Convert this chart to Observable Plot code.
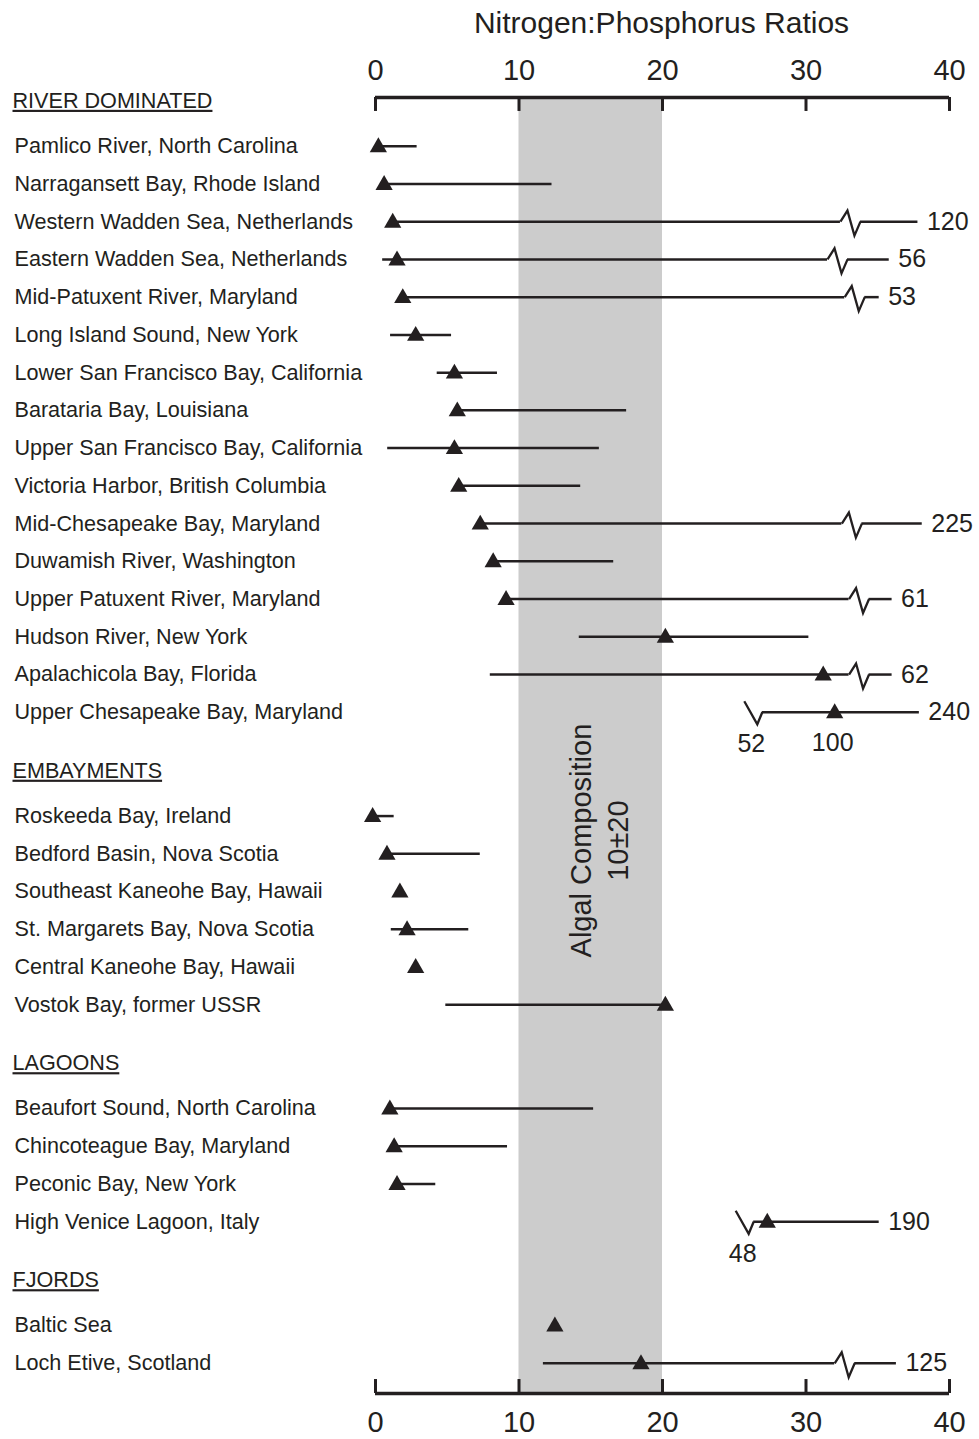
<!DOCTYPE html>
<html><head><meta charset="utf-8">
<script src="https://cdn.jsdelivr.net/npm/d3@7"></script>
<script src="https://cdn.jsdelivr.net/npm/@observablehq/plot@0.6"></script>
<style>
body{margin:0;background:#fff;font-family:"Liberation Sans",Arial,sans-serif;}
#title{width:979px;box-sizing:border-box;padding-left:375px;padding-right:31px;text-align:center;font-size:30px;color:#231f20;height:40px;line-height:46px;white-space:nowrap;}
#chart svg{display:block;}
</style></head><body>
<div id="title">Nitrogen:Phosphorus Ratios</div>
<div id="chart"></div>
<script>
// ---------- data ----------
const groups = ["RIVER DOMINATED", "EMBAYMENTS", "LAGOONS", "FJORDS"];
const sites = [
  "Pamlico River, North Carolina",
  "Narragansett Bay, Rhode Island",
  "Western Wadden Sea, Netherlands",
  "Eastern Wadden Sea, Netherlands",
  "Mid-Patuxent River, Maryland",
  "Long Island Sound, New York",
  "Lower San Francisco Bay, California",
  "Barataria Bay, Louisiana",
  "Upper San Francisco Bay, California",
  "Victoria Harbor, British Columbia",
  "Mid-Chesapeake Bay, Maryland",
  "Duwamish River, Washington",
  "Upper Patuxent River, Maryland",
  "Hudson River, New York",
  "Apalachicola Bay, Florida",
  "Upper Chesapeake Bay, Maryland",
  "Roskeeda Bay, Ireland",
  "Bedford Basin, Nova Scotia",
  "Southeast Kaneohe Bay, Hawaii",
  "St. Margarets Bay, Nova Scotia",
  "Central Kaneohe Bay, Hawaii",
  "Vostok Bay, former USSR",
  "Beaufort Sound, North Carolina",
  "Chincoteague Bay, Maryland",
  "Peconic Bay, New York",
  "High Venice Lagoon, Italy",
  "Baltic Sea",
  "Loch Etive, Scotland"
];
const siteGroup = [0,0,0,0,0,0,0,0,0,0,0,0,0,0,0,0, 1,1,1,1,1,1, 2,2,2,2, 3,3];
// mean N:P ratio (triangle), on the plotted axis
const meanRatio = [0.2, 0.6, 1.2, 1.5, 1.9, 2.8, 5.5, 5.7, 5.5, 5.8, 7.3, 8.2, 9.1, 20.2, 31.2, 32.0,
                   -0.2, 0.8, 1.7, 2.2, 2.8, 20.2,
                   1.0, 1.3, 1.5, 27.3,
                   12.5, 18.5];
// range low / high (null = no range drawn)
const rangeLow  = [0.2, 0.6, 1.2, 0.5, 1.9, 1.05, 4.3, 5.7, 0.85, 5.8, 7.3, 8.2, 9.1, 14.2, 8.0, null,
                   -0.2, 0.8, null, 1.1, null, 4.9,
                   1.0, 1.3, 1.5, null,
                   null, 11.7];
const rangeHigh = [2.9, 12.3, 37.8, 35.8, 35.1, 5.3, 8.5, 17.5, 15.6, 14.3, 38.1, 16.6, 36.0, 30.2, 36.0, 37.9,
                   1.3, 7.3, null, 6.5, null, 20.2,
                   15.2, 9.2, 4.2, 35.1,
                   null, 36.3];
// axis break inside the range (null = none)
const breakAt = [null, null, 32.4, 31.5, 32.7, null, null, null, null, null, 32.5, null, 33.0, null, 33.0, null,
                 null, null, null, null, null, null,
                 null, null, null, null,
                 null, 32.0];
// axis break at the low end of the range (null = none)
const lowBreakAt = [null,null,null,null,null,null,null,null,null,null,null,null,null,null,null, 25.7,
                    null,null,null,null,null,null,
                    null,null,null, 25.1,
                    null,null];
const highLabel = [null, null, "120", "56", "53", null, null, null, null, null, "225", null, "61", null, "62", "240",
                   null, null, null, null, null, null,
                   null, null, null, "190",
                   null, "125"];
const lowLabel = {15: "52", 25: "48"};
const meanLabel = {15: "100"};
const xTicks = [0, 10, 20, 30, 40];
const algalBand = [10, 20];

// ---------- layout ----------
const ink = "#231f20";
const ROW = 1, HEAD_BEFORE = 1.55, HEAD_AFTER = 1.2;
const yTop = -0.09, yBottom = 34.25, tickLen = 0.37;
let pos = 0;
const headers = [];
const rows = sites.map((site, i) => {
  if (i === 0 || siteGroup[i] !== siteGroup[i - 1]) {
    pos = i === 0 ? 0 : pos + HEAD_BEFORE;
    headers.push({name: groups[siteGroup[i]], pos});
    pos += HEAD_AFTER;
  } else pos += ROW;
  return {site, pos, mean: meanRatio[i], low: rangeLow[i], high: rangeHigh[i],
          brk: breakAt[i], lowBrk: lowBreakAt[i], hl: highLabel[i],
          ll: lowLabel[i] ?? null, ml: meanLabel[i] ?? null};
});

const zigMid = {draw(ctx) { ctx.moveTo(0, 0); ctx.lineTo(7, -11); ctx.lineTo(14, 14); ctx.lineTo(20, 0); }};
const zigStart = {draw(ctx) { ctx.moveTo(0, -11); ctx.lineTo(13, 12); ctx.lineTo(18, 0); }};
const font = "Liberation Sans, Arial, sans-serif";

const chart = Plot.plot({
  width: 979,
  height: 1399,
  marginTop: 57,
  marginBottom: 46,
  marginLeft: 375,
  marginRight: 31,
  style: {fontFamily: font, color: ink, background: "white"},
  x: {domain: [0, 40], range: [375, 949], axis: null},
  y: {domain: [yTop, yBottom], reverse: true, axis: null},
  marks: [
    Plot.rect([algalBand], {x1: d => d[0], x2: d => d[1], y1: yTop, y2: yBottom, fill: "#cccccc"}),
    Plot.ruleY([yTop, yBottom], {x1: 0, x2: 40, stroke: ink, strokeWidth: 3.5}),
    Plot.ruleX(xTicks, {x: d => d, y1: yTop, y2: yTop + tickLen, stroke: ink, strokeWidth: 3}),
    Plot.ruleX(xTicks, {x: d => d, y1: yBottom - tickLen, y2: yBottom, stroke: ink, strokeWidth: 3}),
    Plot.text(xTicks, {x: d => d, y: yTop, dy: -27, text: d => String(d), fontSize: 29, fill: ink}),
    Plot.text(xTicks, {x: d => d, y: yBottom, dy: 29, text: d => String(d), fontSize: 29, fill: ink}),
    Plot.text(["Algal Composition\n10\u00b120"], {x: (algalBand[0] + algalBand[1]) / 2, y: 19.6, dx: 7, rotate: -90,
      text: d => d, fontSize: 29, lineHeight: 1.27, fill: ink}),
    // range lines
    Plot.ruleY(rows.filter(d => d.low != null), {x1: "low", x2: d => d.brk ?? d.high, y: "pos", stroke: ink, strokeWidth: 2.5}),
    Plot.ruleY(rows.filter(d => d.brk != null), {x1: "brk", x2: "high", y: "pos", insetLeft: 20, stroke: ink, strokeWidth: 2.5}),
    Plot.ruleY(rows.filter(d => d.lowBrk != null), {x1: "lowBrk", x2: "high", y: "pos", insetLeft: 18, stroke: ink, strokeWidth: 2.5}),
    Plot.dot(rows.filter(d => d.brk != null), {x: "brk", y: "pos", symbol: zigMid, r: 1, fill: "none", stroke: ink, strokeWidth: 2.3}),
    Plot.dot(rows.filter(d => d.lowBrk != null), {x: "lowBrk", y: "pos", symbol: zigStart, r: 1, fill: "none", stroke: ink, strokeWidth: 2.3}),
    // mean markers
    Plot.dot(rows, {x: "mean", y: "pos", symbol: "triangle", r: 6.4, dy: 1, fill: ink, stroke: "none"}),
    // labels
    Plot.text(rows.filter(d => d.hl), {x: "high", y: "pos", text: "hl", textAnchor: "start", dx: 9, fontSize: 25, fill: ink}),
    Plot.text(rows.filter(d => d.ll), {x: "lowBrk", y: "pos", text: "ll", dx: 7, dy: 32, fontSize: 25, fill: ink}),
    Plot.text(rows.filter(d => d.ml), {x: "mean", y: "pos", text: "ml", dx: -2, dy: 31, fontSize: 25, fill: ink}),
    Plot.text(rows, {y: "pos", text: "site", frameAnchor: "left", textAnchor: "start", dx: -361, fontSize: 21.6, fill: ink}),
    Plot.text(headers, {y: "pos", text: "name", frameAnchor: "left", textAnchor: "start", dx: -363, fontSize: 21.6, fill: ink, className: "hdr"})
  ]
});
d3.select(chart).selectAll(".hdr text").style("text-decoration", "underline");
document.getElementById("chart").appendChild(chart);
</script>
</body></html>
